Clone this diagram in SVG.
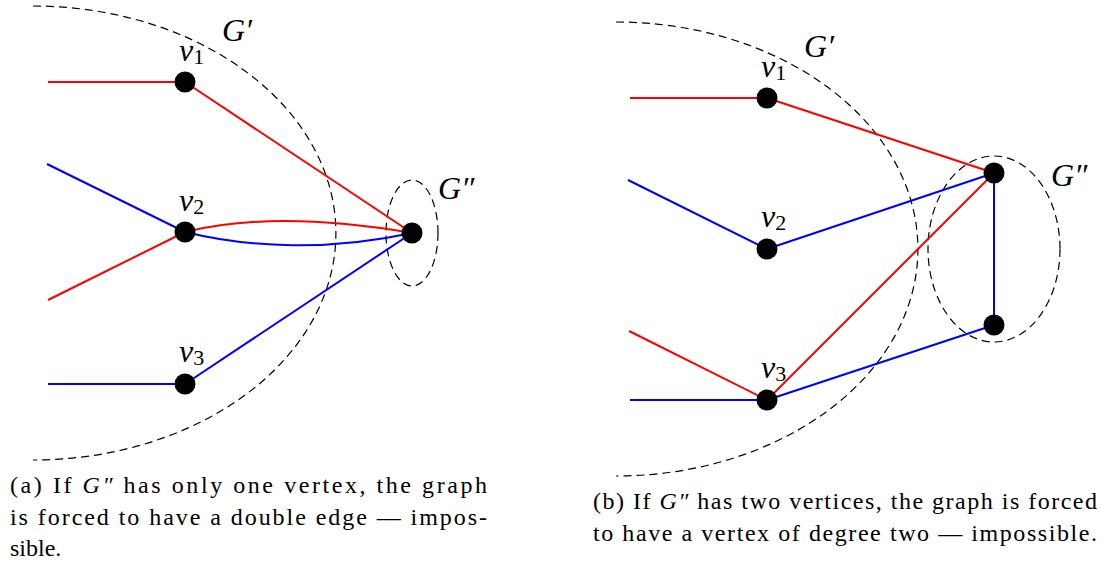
<svg xmlns="http://www.w3.org/2000/svg" width="1102" height="565" viewBox="0 0 1102 565">
<style>
.red{stroke:#ff0000;stroke-width:2;fill:none}
.blue{stroke:#0000ff;stroke-width:2;fill:none}
.dash{stroke:#000;stroke-width:1.2;fill:none;stroke-dasharray:8 5}
.node{fill:#000}
.m{font-style:italic;font-size:32px;fill:#000}
.sub{font-style:normal;font-size:22px}
.cap{font-size:24px;fill:#000}
.it{font-style:italic}
</style>
<g id="regions">
<path class="dash" d="M33,6 A303,227 0 0 1 33,460"/>
<ellipse class="dash" cx="412" cy="233" rx="26" ry="53"/>
<path class="dash" d="M616,22 A302,227 0 0 1 616,476"/>
<ellipse class="dash" cx="994" cy="249" rx="66" ry="93"/>
</g>
<g id="connectors">
<line class="red" x1="48" y1="82" x2="185" y2="82"/>
<line class="red" x1="185" y1="82" x2="412" y2="233"/>
<line class="blue" x1="47" y1="164" x2="185" y2="232"/>
<line class="red" x1="48" y1="300" x2="185" y2="232"/>
<path class="red" d="M185,232 C250,216 330,219 412,233"/>
<path class="blue" d="M185,232 C250,248 330,251 412,233"/>
<line class="blue" x1="48" y1="384" x2="185" y2="384"/>
<line class="blue" x1="185" y1="384" x2="412" y2="233"/>
<line class="red" x1="630" y1="98" x2="767" y2="98"/>
<line class="red" x1="767" y1="98" x2="994" y2="173"/>
<line class="blue" x1="628" y1="180" x2="767" y2="249"/>
<line class="blue" x1="767" y1="249" x2="994" y2="173"/>
<line class="red" x1="629" y1="331" x2="767" y2="400"/>
<line class="blue" x1="630" y1="400" x2="767" y2="400"/>
<line class="red" x1="767" y1="400" x2="994" y2="173"/>
<line class="blue" x1="767" y1="400" x2="994" y2="325"/>
<line class="blue" x1="994" y1="173" x2="994" y2="325"/>
</g>
<g font-family="Liberation Serif, serif">
<g id="a-v1"><circle class="node" cx="185" cy="82" r="10.5"/><text class="m" x="179" y="61">v<tspan class="sub" dy="3">1</tspan></text></g>
<g id="a-v2"><circle class="node" cx="185" cy="232" r="10.5"/><text class="m" x="179" y="211">v<tspan class="sub" dy="3">2</tspan></text></g>
<g id="a-v3"><circle class="node" cx="185" cy="384" r="10.5"/><text class="m" x="179" y="362">v<tspan class="sub" dy="3">3</tspan></text></g>
<g id="a-w"><circle class="node" cx="412" cy="233" r="10.5"/></g>
<g id="a-labels"><text class="m" x="222" y="41">G′</text><text class="m" x="438" y="199">G″</text></g>
<g id="b-v1"><circle class="node" cx="767" cy="98" r="10.5"/><text class="m" x="761" y="77">v<tspan class="sub" dy="3">1</tspan></text></g>
<g id="b-v2"><circle class="node" cx="767" cy="249" r="10.5"/><text class="m" x="761" y="227">v<tspan class="sub" dy="3">2</tspan></text></g>
<g id="b-v3"><circle class="node" cx="767" cy="400" r="10.5"/><text class="m" x="761" y="378">v<tspan class="sub" dy="3">3</tspan></text></g>
<g id="b-w1"><circle class="node" cx="994" cy="173" r="10.5"/></g>
<g id="b-w2"><circle class="node" cx="994" cy="325" r="10.5"/></g>
<g id="b-labels"><text class="m" x="804" y="57">G′</text><text class="m" x="1051" y="186">G″</text></g>
<g id="caption-a">
<text class="cap" x="10" y="493" textLength="477" lengthAdjust="spacing">(a) If <tspan class="it">G″</tspan> has only one vertex, the graph</text>
<text class="cap" x="10" y="525" textLength="477" lengthAdjust="spacing">is forced to have a double edge — impos-</text>
<text class="cap" x="10" y="556">sible.</text>
</g>
<g id="caption-b">
<text class="cap" x="593" y="509" textLength="504" lengthAdjust="spacing">(b) If <tspan class="it">G″</tspan> has two vertices, the graph is forced</text>
<text class="cap" x="593" y="541" textLength="504" lengthAdjust="spacing">to have a vertex of degree two — impossible.</text>
</g>
</g>
</svg>
